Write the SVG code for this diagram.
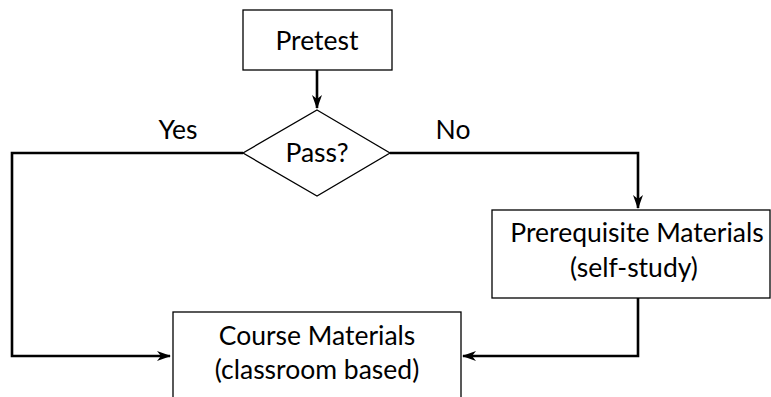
<svg xmlns="http://www.w3.org/2000/svg" width="771" height="397" viewBox="0 0 771 397">
  <defs>
    <marker id="arrow" viewBox="0 0 14 10" refX="13" refY="5" markerWidth="14" markerHeight="10" markerUnits="userSpaceOnUse" orient="auto">
      <path d="M0,0 L14,5 L0,10 L4,5 Z" fill="#000"/>
    </marker>
  </defs>
  <style>
    .box { fill: #fff; stroke: #000; stroke-width: 1.3; }
    .edge { fill: none; stroke: #000; stroke-width: 2.6; }
    text { font-family: Lato, "Open Sans", sans-serif; font-size: 26.5px; fill: #000; text-anchor: middle; }
  </style>
  <rect width="771" height="397" fill="#fff"/>

  <g id="connectors">
    <path class="edge" d="M317,70 V108" marker-end="url(#arrow)"/>
    <path class="edge" d="M243,153 H12 V356 H170" marker-end="url(#arrow)"/>
    <path class="edge" d="M390,153 H638 V208" marker-end="url(#arrow)"/>
    <path class="edge" d="M638,298 V356 H463" marker-end="url(#arrow)"/>
    <text x="178" y="139">Yes</text>
    <text x="453" y="139">No</text>
  </g>

  <g id="pretest">
    <rect class="box" x="243" y="10" width="149" height="60"/>
    <text x="317" y="50">Pretest</text>
  </g>

  <g id="pass">
    <polygon class="box" points="317,110 390,153 317,196 243,153"/>
    <text x="317" y="162">Pass?</text>
  </g>

  <g id="prerequisite">
    <rect class="box" x="492" y="210" width="278" height="88"/>
    <text x="637" y="242">Prerequisite Materials</text>
    <text x="634" y="277">(self-study)</text>
  </g>

  <g id="course">
    <rect class="box" x="173" y="312" width="288" height="100"/>
    <text x="317" y="345">Course Materials</text>
    <text x="317" y="379">(classroom based)</text>
  </g>
</svg>
